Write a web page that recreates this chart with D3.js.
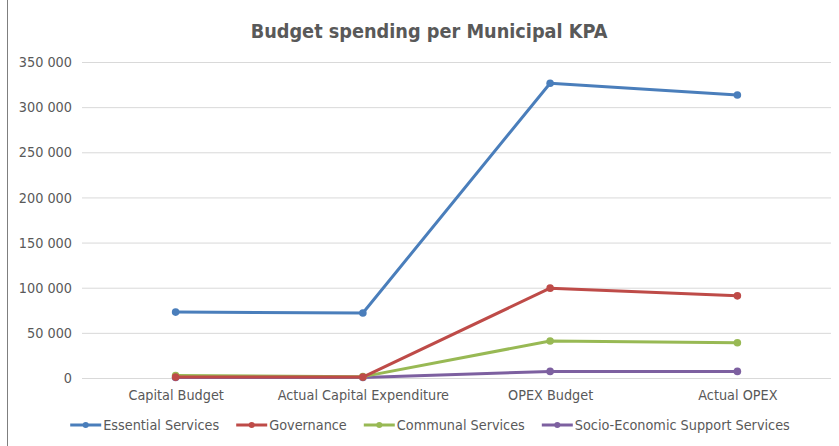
<!DOCTYPE html>
<html>
<head>
<meta charset="utf-8">
<script src="https://cdn.jsdelivr.net/npm/d3@7"></script>
<style>
  html, body { margin: 0; padding: 0; background: #fff; }
  svg { display: block; font-family: "DejaVu Sans Condensed", "DejaVu Sans", sans-serif; font-stretch: condensed; }
</style>
</head>
<body>
<svg id="chart" width="839" height="446"></svg>
<script>
// Budget lines (R thousands) for each municipal KPA
const categories = ["Capital Budget", "Actual Capital Expenditure", "OPEX Budget", "Actual OPEX"];
const seriesNames = ["Essential Services", "Governance", "Communal Services", "Socio-Economic Support Services"];
const essentialServices = [73000, 72000, 326500, 313500];
const governance = [1000, 1000, 99500, 91000];
const communalServices = [2800, 1500, 41000, 39000];
const socioEconomic = [500, 500, 7300, 7300];
const yTicks = [0, 50000, 100000, 150000, 200000, 250000, 300000, 350000];
const colors = ["#4A7EBB", "#BE4B48", "#98B954", "#7D60A0"];

const seriesValues = [essentialServices, governance, communalServices, socioEconomic];
const series = seriesNames.map((name, i) => ({ name, values: seriesValues[i], color: colors[i] }));

const svg = d3.select("#chart");
const W = 839, H = 446;
const plot = { left: 82, right: 831, top: 62, bottom: 378 };
const textColor = "#595959";
const labelSize = 14.3;

// chart frame edge on the left
svg.append("line")
  .attr("x1", 7.5).attr("x2", 7.5).attr("y1", 0).attr("y2", H)
  .attr("stroke", "#7f7f7f").attr("stroke-width", 1);

const x = d3.scalePoint().domain(categories).range([plot.left, plot.right]).padding(0.5);
const y = d3.scaleLinear().domain([0, 350000]).range([plot.bottom, plot.top]);

// title
svg.append("text")
  .attr("x", 429).attr("y", 38)
  .attr("text-anchor", "middle")
  .attr("font-size", 19.7).attr("font-weight", "bold")
  .attr("fill", textColor)
  .text("Budget spending per Municipal KPA");

// horizontal gridlines + y labels
const fmt = v => d3.format(",")(v).replace(/,/g, " ");
const yAxis = svg.append("g")
  .attr("transform", `translate(${plot.left},0)`)
  .call(d3.axisLeft(y).tickValues(yTicks).tickFormat(fmt)
        .tickSize(-(plot.right - plot.left)).tickPadding(10))
  .attr("font-family", null).attr("font-size", null);
yAxis.select(".domain").remove();
yAxis.selectAll(".tick line").attr("stroke", "#d9d9d9").attr("stroke-width", 1);
yAxis.selectAll(".tick text").attr("fill", textColor).attr("font-size", labelSize);

// category labels
const xAxis = svg.append("g")
  .attr("transform", `translate(0,${plot.bottom})`)
  .call(d3.axisBottom(x).tickSize(0).tickPadding(12))
  .attr("font-family", null).attr("font-size", null);
xAxis.select(".domain").remove();
xAxis.selectAll(".tick text").attr("fill", textColor).attr("font-size", labelSize);

// series lines and markers
const line = d3.line().x((d, i) => x(categories[i])).y(d => y(d));
const g = svg.append("g");
series.slice().reverse().forEach(s => {
  g.append("path")
    .attr("d", line(s.values))
    .attr("fill", "none")
    .attr("stroke", s.color)
    .attr("stroke-width", 3)
    .attr("stroke-linejoin", "round")
    .attr("stroke-linecap", "round");
  g.selectAll(null).data(s.values).enter().append("circle")
    .attr("cx", (d, i) => x(categories[i]))
    .attr("cy", d => y(d))
    .attr("r", 3.8)
    .attr("fill", s.color);
});

// legend, laid out left to right and centred under the plot
const legendY = 425, keyLen = 31, keyGap = 2, itemGap = 17, legendCenter = 430;
const legend = svg.append("g");
let cursor = 0;
series.forEach(s => {
  const lg = legend.append("g").attr("transform", `translate(${cursor},${legendY})`);
  lg.append("line").attr("x1", 0).attr("x2", keyLen).attr("y1", 0).attr("y2", 0)
    .attr("stroke", s.color).attr("stroke-width", 3);
  lg.append("circle").attr("cx", keyLen / 2).attr("cy", 0).attr("r", 3).attr("fill", s.color);
  const t = lg.append("text").attr("x", keyLen + keyGap).attr("y", 5)
    .attr("font-size", labelSize).attr("fill", textColor)
    .text(s.name);
  cursor += keyLen + keyGap + t.node().getComputedTextLength() + itemGap;
});
const legendWidth = cursor - itemGap;
legend.attr("transform", `translate(${legendCenter - legendWidth / 2},0)`);
</script>
</body>
</html>
